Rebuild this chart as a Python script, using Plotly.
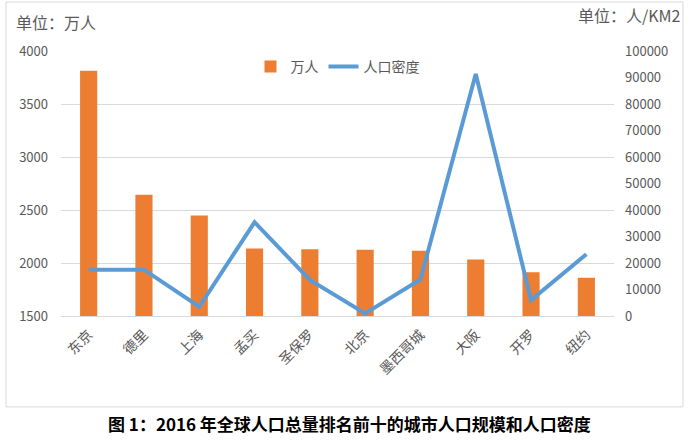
import plotly.graph_objects as go

cities = ["东京", "德里", "上海", "孟买", "圣保罗", "北京", "墨西哥城", "大阪", "开罗", "纽约"]
population = [3814, 2645, 2448, 2136, 2130, 2124, 2116, 2034, 1913, 1860]  # 万人
density = [17500, 17500, 3500, 35400, 13600, 1000, 13800, 91300, 6000, 23300]  # 人/KM2

left_ticks = [1500, 2000, 2500, 3000, 3500, 4000]
right_ticks = [0, 10000, 20000, 30000, 40000, 50000, 60000, 70000, 80000, 90000, 100000]
right_labels = [str(v) for v in right_ticks]

FONT = "Noto Sans CJK SC, Noto Sans, sans-serif"
GRAY = "#595959"

fig = go.Figure()
fig.add_trace(go.Bar(
    x=cities, y=population, name="万人",
    marker=dict(color="#ED7D31", line=dict(width=0)),
    yaxis="y",
))
fig.add_trace(go.Scatter(
    x=cities, y=density, name="人口密度", mode="lines",
    line=dict(color="#5B9BD5", width=4),
    yaxis="y2",
))

fig.update_layout(
    width=690, height=441,
    margin=dict(l=61, r=76, t=51, b=125),
    paper_bgcolor="white", plot_bgcolor="white",
    font=dict(family=FONT, color=GRAY, size=13),
    bargap=0.69,
    showlegend=True,
    legend=dict(orientation="h", x=0.5, xanchor="center", y=1.0, yanchor="top",
                font=dict(size=14, color=GRAY), bgcolor="rgba(0,0,0,0)"),
    xaxis=dict(
        tickangle=-45, tickfont=dict(size=14, color=GRAY),
        showline=True, linecolor="#D9D9D9", linewidth=1,
        showgrid=False, ticks="", ticklabelstandoff=4,
    ),
    yaxis=dict(
        range=[1500, 4000], tickvals=left_ticks,
        showgrid=True, gridcolor="#D9D9D9", gridwidth=1,
        zeroline=False, showline=False, ticks="",
        tickfont=dict(size=13, color=GRAY), ticklabelstandoff=12,
    ),
    yaxis2=dict(
        range=[0, 100000], tickvals=right_ticks, ticktext=right_labels,
        overlaying="y", side="right",
        showgrid=False, zeroline=False, showline=False, ticks="",
        tickfont=dict(size=13, color=GRAY), ticklabelstandoff=10,
    ),
)

# chart border
fig.add_shape(type="rect", xref="paper", yref="paper",
              x0=-0.0995, x1=1.1248, y0=-0.343, y1=1.185,
              line=dict(color="#D9D9D9", width=1), fillcolor="rgba(0,0,0,0)", layer="below")

fig.add_annotation(text="单位：万人", xref="paper", yref="paper",
                   x=-0.085, y=1.11, xanchor="left", yanchor="middle",
                   showarrow=False, font=dict(size=16, color=GRAY))
fig.add_annotation(text="单位：人/KM2", xref="paper", yref="paper",
                   x=1.1248, y=1.135, xanchor="right", yanchor="middle",
                   showarrow=False, font=dict(size=16, color=GRAY))
fig.add_annotation(text="<b>图 1：2016 年全球人口总量排名前十的城市人口规模和人口密度</b>",
                   xref="paper", yref="paper", x=(349 - 61) / 553, y=-0.4075,
                   xanchor="center", yanchor="middle", showarrow=False,
                   font=dict(size=17, color="black"))

fig.write_html("out.html")
